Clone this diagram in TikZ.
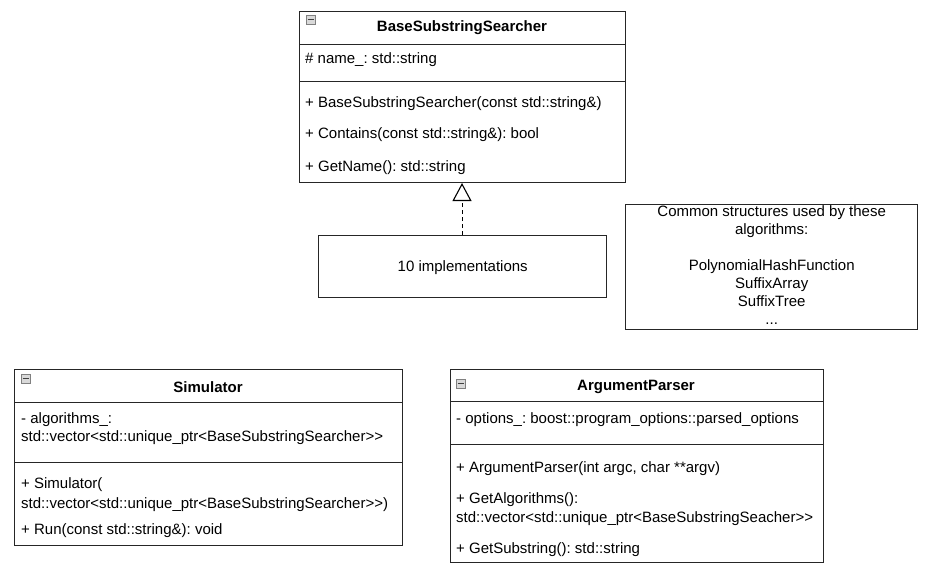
\documentclass[tikz,border=0pt]{standalone}
\usepackage{fontspec}
\setmainfont{Liberation Sans}
\frenchspacing
\usetikzlibrary{arrows.meta}

\tikzset{
  compart/.style={draw=black!85, line width=1.4pt, anchor=north west, inner sep=0pt},
  classname/.style={font=\fontsize{15}{17}\selectfont\bfseries, inner sep=0pt, yshift=-1pt},
  member/.style={anchor=west, font=\fontsize{15}{17}\selectfont, inner sep=0pt, yshift=-2pt},
  foldicon/.style={draw=gray, fill=gray!30, minimum size=9pt, inner sep=0pt, anchor=north west,
    path picture={\draw[black!75, line width=1pt] ([xshift=1.5pt]path picture bounding box.west) -- ([xshift=-1.5pt]path picture bounding box.east);}},
  realize/.style={dash pattern=on 4pt off 3pt, line width=1pt, -{Triangle[open, length=18pt, width=19pt, line width=1.1pt]}}
}

\begin{document}
\begin{tikzpicture}[x=1pt, y=-1pt]
\useasboundingbox (0,0) rectangle (933,571);

% base class
\node[compart, minimum width=326pt, minimum height=33pt] (basehead) at (299,11) {};
\node[compart, minimum width=326pt, minimum height=37pt] (baseattr) at (299,44) {};
\node[compart, minimum width=326pt, minimum height=101pt] (baseops) at (299,81) {};
\node[foldicon] (baseicon) at (306,15) {};
\node[classname] (basetitle) at (462,27) {BaseSubstringSearcher};
\node[member] (basename) at (305,58) {\# name\_: std::string};
\node[member] (basector) at (305,102) {+ BaseSubstringSearcher(const std::string\&)};
\node[member] (basecont) at (305,133) {+ Contains(const std::string\&): bool};
\node[member] (basegetname) at (305,166) {+ GetName(): std::string};

% implementations
\node[compart, minimum width=288pt, minimum height=62pt] (impl) at (318,235) {};
\node[font=\fontsize{15}{17}\selectfont] (impltext) at ([yshift=-1pt]impl.center) {10 implementations};
\coordinate (baseapex) at (462,183);
\draw[realize] (impl.north -| baseapex) -- (baseapex);

% note on structures
\node[compart, minimum width=292pt, minimum height=125pt] (common) at (625,204) {};
\node[align=center, font=\fontsize{15}{18}\selectfont, inner sep=0pt] (commontext) at ([yshift=2.5pt]common.center)
  {Common structures used by these\\ algorithms:\\[18pt] PolynomialHashFunction\\ SuffixArray\\ SuffixTree\\ ...};

% simulator
\node[compart, minimum width=388pt, minimum height=33pt] (simhead) at (14,369) {};
\node[compart, minimum width=388pt, minimum height=60pt] (simattr) at (14,402) {};
\node[compart, minimum width=388pt, minimum height=83pt] (simops) at (14,462) {};
\node[foldicon] (simicon) at (21,374) {};
\node[classname] (simtitle) at (208,386) {Simulator};
\node[member] (simalgo) at (21,418) {- algorithms\_:};
\node[member] (simalgotype) at (21,436) {std::vector<std::unique\_ptr<BaseSubstringSearcher>{}>};
\node[member] (simctor) at (21,483) {+ Simulator(};
\node[member] (simctorarg) at (21,503) {std::vector<std::unique\_ptr<BaseSubstringSearcher>{}>)};
\node[member] (simrun) at (21,529) {+ Run(const std::string\&): void};

% argument parser
\node[compart, minimum width=373pt, minimum height=32pt] (arghead) at (450,369) {};
\node[compart, minimum width=373pt, minimum height=43pt] (argattr) at (450,401) {};
\node[compart, minimum width=373pt, minimum height=118pt] (argops) at (450,444) {};
\node[foldicon] (argicon) at (456,379) {};
\node[classname] (argtitle) at (636,386) {ArgumentParser};
\node[member] (argopts) at (456,418) {- options\_: boost::program\_options::parsed\_options};
\node[member] (argctor) at (456,467) {+ ArgumentParser(int argc, char **argv)};
\node[member] (arggetalgo) at (456,498) {+ GetAlgorithms():};
\node[member] (arggetalgotype) at (456,517) {std::vector<std::unique\_ptr<BaseSubstringSeacher>{}>};
\node[member] (arggetsub) at (456,548) {+ GetSubstring(): std::string};

\end{tikzpicture}
\end{document}
